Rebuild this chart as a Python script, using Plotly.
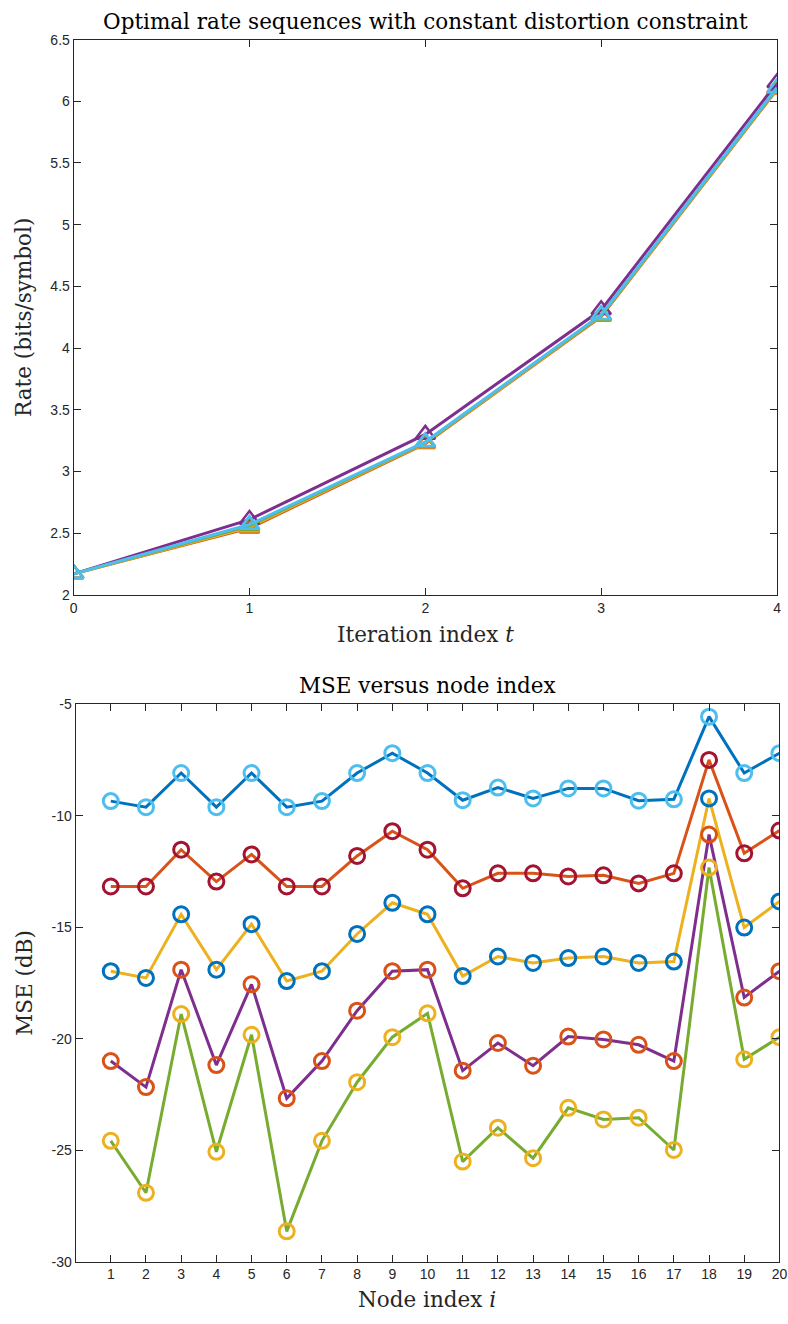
import plotly.graph_objects as go

W, H = 788, 1324

# ---------- Top chart data ----------
t_vals = [0, 1, 2, 3, 4]
rate_orange = [2.17, 2.54, 3.225, 4.255, 6.095]
rate_yellow = [2.17, 2.55, 3.23, 4.26, 6.10]
rate_purple = [2.17, 2.61, 3.30, 4.31, 6.15]
rate_green = [2.17, 2.56, 3.235, 4.265, 6.105]
rate_cyan = [2.17, 2.57, 3.24, 4.27, 6.11]

# ---------- Bottom chart data ----------
nodes = list(range(1, 21))
mse_1 = [-9.34, -9.61, -8.08, -9.61, -8.08, -9.61, -9.34, -8.08, -7.19, -8.08,
         -9.30, -8.73, -9.22, -8.77, -8.77, -9.32, -9.26, -5.55, -8.08, -7.19]
mse_2 = [-13.17, -13.17, -11.52, -12.95, -11.73, -13.17, -13.17, -11.80, -10.69, -11.52,
         -13.25, -12.58, -12.58, -12.72, -12.67, -13.03, -12.58, -7.49, -11.68, -10.66]
mse_3 = [-16.97, -17.27, -14.42, -16.90, -14.86, -17.41, -16.97, -15.30, -13.90, -14.42,
         -17.19, -16.31, -16.60, -16.38, -16.31, -16.60, -16.54, -9.22, -15.01, -13.84]
mse_4 = [-21.00, -22.17, -16.90, -21.18, -17.56, -22.67, -21.00, -18.74, -16.97, -16.90,
         -21.43, -20.19, -21.21, -19.90, -20.03, -20.27, -21.00, -10.84, -18.15, -16.97]
mse_5 = [-24.58, -26.91, -18.89, -25.07, -19.82, -28.64, -24.58, -21.95, -19.93, -18.86,
         -25.51, -23.99, -25.36, -23.10, -23.62, -23.54, -24.99, -12.32, -20.92, -19.93]

rate_ticks = [2, 2.5, 3, 3.5, 4, 4.5, 5, 5.5, 6, 6.5]
rate_tick_text = ["2", "2.5", "3", "3.5", "4", "4.5", "5", "5.5", "6", "6.5"]
mse_ticks = [-30, -25, -20, -15, -10, -5]
mse_tick_text = ["-30", "-25", "-20", "-15", "-10", "-5"]

BLUE = "#0072BD"
ORANGE = "#D95319"
YELLOW = "#EDB120"
PURPLE = "#7E2F8E"
GREEN = "#77AC30"
CYAN = "#4DBEEE"
RED = "#A2142F"

fig = go.Figure()

for vals, col in [(rate_orange, ORANGE), (rate_yellow, YELLOW), (rate_purple, PURPLE),
                  (rate_green, GREEN), (rate_cyan, CYAN)]:
    fig.add_trace(go.Scatter(
        x=t_vals, y=vals, mode="lines+markers", xaxis="x", yaxis="y",
        line=dict(color=col, width=3),
        marker=dict(symbol="triangle-up-open", size=17, color=col, line=dict(width=2.5, color=col)),
        showlegend=False, cliponaxis=True))

for vals, lc, mc in [(mse_1, BLUE, CYAN), (mse_2, ORANGE, RED), (mse_3, YELLOW, BLUE),
                     (mse_4, PURPLE, ORANGE), (mse_5, GREEN, YELLOW)]:
    fig.add_trace(go.Scatter(
        x=nodes, y=vals, mode="lines+markers", xaxis="x2", yaxis="y2",
        line=dict(color=lc, width=3),
        marker=dict(symbol="circle-open", size=15, color=mc, line=dict(width=3, color=mc)),
        showlegend=False, cliponaxis=True))

AX = "#262626"
tickfont = dict(family="Liberation Sans, Arial, sans-serif", size=14, color=AX)
common = dict(showline=True, linecolor=AX, linewidth=1, mirror="ticks", ticks="inside",
              ticklen=7, tickcolor=AX, tickwidth=1, showgrid=False, zeroline=False,
              tickfont=tickfont, fixedrange=True, ticklabeloverflow="allow")

def px(xp):
    return xp / W

def py(yp):
    return 1 - yp / H

fig.update_layout(
    width=W, height=H, margin=dict(l=0, r=0, t=0, b=0),
    paper_bgcolor="white", plot_bgcolor="white",
    xaxis=dict(domain=[px(70.7), px(785)], range=[0, 4], anchor="y",
               tickvals=t_vals, ticktext=[str(v) for v in t_vals], **common),
    yaxis=dict(domain=[py(594), py(32)], range=[2, 6.5], anchor="x",
               tickvals=rate_ticks, ticktext=rate_tick_text, **common),
    xaxis2=dict(domain=[px(72.7), px(787.4)], range=[0, 20], anchor="y2",
                tickvals=nodes, ticktext=[str(v) for v in nodes], **common),
    yaxis2=dict(domain=[py(1269), py(704.9)], range=[-30, -5], anchor="x2",
                tickvals=mse_ticks, ticktext=mse_tick_text, **common),
)

serif = dict(family="DejaVu Serif, Liberation Serif, serif", size=21.5, color="#000000")
serif_lbl = dict(family="DejaVu Serif, Liberation Serif, serif", size=21.5, color=AX)

annots = [
    dict(text="Optimal rate sequences with constant distortion constraint", x=px(428), y=py(14), font=serif),
    dict(text="Iteration index <i>t</i>", x=px(428), y=py(634), font=serif_lbl),
    dict(text="Rate (bits/symbol)", x=px(20), y=py(313), font=serif_lbl, textangle=-90),
    dict(text="MSE versus node index", x=px(430), y=py(686), font=serif),
    dict(text="MSE (dB)", x=px(20), y=py(987), font=serif_lbl, textangle=-90),
    dict(text="Node index <i>i</i>", x=px(430), y=py(1307), font=serif_lbl),
]
for a in annots:
    a.update(xref="paper", yref="paper", showarrow=False, xanchor="center", yanchor="middle")
fig.update_layout(annotations=annots)

fig.write_html("out.html")
